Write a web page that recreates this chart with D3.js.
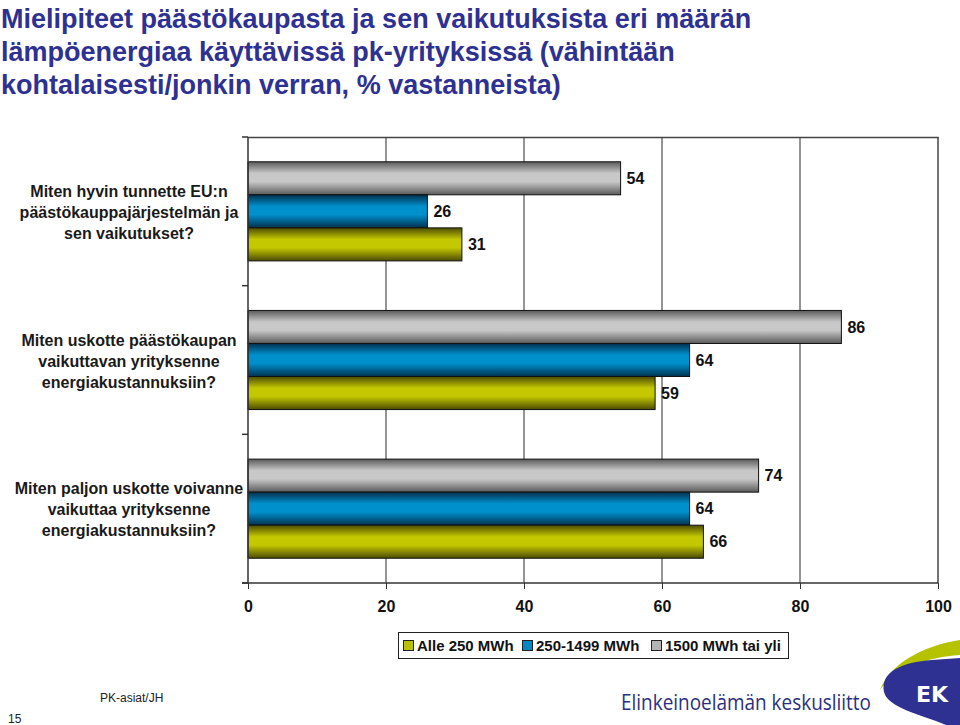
<!DOCTYPE html>
<html><head><meta charset="utf-8">
<script src="https://cdn.jsdelivr.net/npm/d3@7"></script>
<style>
html,body{margin:0;padding:0;background:#fff;}
svg{display:block;font-family:"Liberation Sans",Arial,sans-serif;}
</style></head>
<body>
<script>
const titleLines = ["Mielipiteet päästökaupasta ja sen vaikutuksista eri määrän","lämpöenergiaa käyttävissä pk-yrityksissä (vähintään","kohtalaisesti/jonkin verran, % vastanneista)"];
const categories = ["q1","q2","q3"];
const categoryLabels = [
  ["Miten hyvin tunnette EU:n","päästökauppajärjestelmän ja","sen vaikutukset?"],
  ["Miten uskotte päästökaupan","vaikuttavan yrityksenne","energiakustannuksiin?"],
  ["Miten paljon uskotte voivanne","vaikuttaa yrityksenne","energiakustannuksiin?"]
];
const seriesNames = ["Alle 250 MWh","250-1499 MWh","1500 MWh tai yli"];
const alle250 = [31, 59, 66];
const mid250_1499 = [26, 64, 64];
const over1500 = [54, 86, 74];
const xTicks = [0,20,40,60,80,100];

const seriesValues = [alle250, mid250_1499, over1500];
const seriesColors = [
  {dark:"#4c4c00", light:"#c4c800", sw:"#b8c000"},
  {dark:"#00314f", light:"#0090cc", sw:"#0088c4"},
  {dark:"#5a5a5a", light:"#c8c8c8", sw:"#b4b4b4"}
];

const W=960,H=725;
const svg=d3.select("body").append("svg").attr("width",W).attr("height",H);
const defs=svg.append("defs");
seriesColors.forEach((c,i)=>{
  const g=defs.append("linearGradient").attr("id","g"+i).attr("x1",0).attr("y1",0).attr("x2",0).attr("y2",1);
  g.append("stop").attr("offset","0%").attr("stop-color",c.dark);
  g.append("stop").attr("offset","35%").attr("stop-color",c.light);
  g.append("stop").attr("offset","60%").attr("stop-color",c.light);
  g.append("stop").attr("offset","100%").attr("stop-color",c.dark);
});

// Title
const title=svg.append("g");
titleLines.forEach((t,i)=>{
  title.append("text").attr("x",1).attr("y",28+i*33).attr("font-size",27).attr("font-weight","bold")
   .attr("fill","#2e3192").text(t);
});

const x=d3.scaleLinear().domain([0,100]).range([248,938]);
const y=d3.scaleBand().domain(categories).range([137,583]);
const order=[2,1,0]; // top to bottom: >1500, 250-1499, alle 250
const yi=d3.scaleBand().domain(order).range([0,y.bandwidth()]).paddingOuter(0.75);

const plot=svg.append("g");
// gridlines
plot.selectAll("line.grid").data(xTicks.filter(d=>d>0&&d<100)).enter().append("line")
 .attr("x1",d=>x(d)).attr("x2",d=>x(d)).attr("y1",y.range()[0]).attr("y2",y.range()[1])
 .attr("stroke","#2a2a2a").attr("stroke-width",1);
// top & right border
plot.append("line").attr("x1",x(0)).attr("x2",x(100)+0.5).attr("y1",137.5).attr("y2",137.5).attr("stroke","#444").attr("stroke-width",1.5);
plot.append("line").attr("x1",x(100)).attr("x2",x(100)).attr("y1",137).attr("y2",583).attr("stroke","#444").attr("stroke-width",1.5);

// bars
categories.forEach((cat,ci)=>{
  order.forEach(si=>{
    const v=seriesValues[si][ci];
    const y0=y(cat)+yi(si);
    plot.append("rect").attr("x",x(0)).attr("y",y0).attr("width",x(v)-x(0)).attr("height",yi.bandwidth())
      .attr("fill","url(#g"+si+")").attr("stroke","#111").attr("stroke-width",1);
    plot.append("text").attr("x",x(v)+6).attr("y",y0+yi.bandwidth()/2).attr("dy","0.36em")
      .attr("font-size",16).attr("font-weight","bold").attr("fill","#111").text(v);
  });
});

// y axis
plot.append("line").attr("x1",x(0)).attr("x2",x(0)).attr("y1",137).attr("y2",583).attr("stroke","#333").attr("stroke-width",1.5);
const bounds=categories.map(c=>y(c)).concat([y.range()[1]]);
plot.selectAll("line.ytick").data(bounds).enter().append("line")
 .attr("x1",x(0)-6).attr("x2",x(0)).attr("y1",d=>d).attr("y2",d=>d).attr("stroke","#333").attr("stroke-width",1.5);

// x axis
const xAxis=d3.axisBottom(x).tickValues(xTicks).tickSize(6).tickPadding(12).tickSizeOuter(0);
const xg=plot.append("g").attr("transform","translate(0,583)").call(xAxis);
xg.select(".domain").attr("stroke","#333").attr("stroke-width",1.5).attr("d","M"+(x(0)-6)+",0H"+x(100));
xg.selectAll(".tick line").attr("stroke","#333").attr("stroke-width",1);
xg.selectAll(".tick text").attr("font-size",16).attr("font-weight","bold").attr("fill","#111")
  .attr("font-family","Liberation Sans, Arial, sans-serif");

// category labels
categories.forEach((cat,ci)=>{
  const cy=y(cat)+y.bandwidth()/2+1;
  const lines=categoryLabels[ci];
  lines.forEach((t,li)=>{
    svg.append("text").attr("x",129).attr("y",cy+(li-1)*21).attr("dy","0.36em").attr("text-anchor","middle")
      .attr("font-size",16).attr("font-weight","bold").attr("fill","#1a1a1a").text(t);
  });
});

// legend
const lg=svg.append("g");
lg.append("rect").attr("x",398.5).attr("y",632.5).attr("width",390).attr("height",26).attr("fill","#fff").attr("stroke","#222").attr("stroke-width",1);
const lx=[403,522,651];
seriesNames.forEach((n,i)=>{
  lg.append("rect").attr("x",lx[i]+0.5).attr("y",640.5).attr("width",10).attr("height",10)
    .attr("fill",seriesColors[i].sw).attr("stroke","#222").attr("stroke-width",1);
  lg.append("text").attr("x",lx[i]+14).attr("y",645.5).attr("dy","0.36em").attr("font-size",15)
    .attr("font-weight","bold").attr("fill","#111").text(n);
});

// footer
svg.append("text").attr("x",100).attr("y",702).attr("font-size",12).attr("fill","#222")
  .attr("font-family","Liberation Sans Narrow, Arial Narrow, sans-serif").text("PK-asiat/JH");
svg.append("text").attr("x",8).attr("y",723).attr("font-size",12).attr("fill","#222")
  .attr("font-family","Liberation Sans Narrow, Arial Narrow, sans-serif").text("15");
svg.append("text").attr("x",621).attr("y",710).attr("font-size",22).attr("fill","#2a2f80")
  .attr("font-family","Open Sans, sans-serif").attr("textLength",250).attr("lengthAdjust","spacingAndGlyphs")
  .text("Elinkeinoelämän keskusliitto");
// logo
svg.append("path").attr("fill","#b5c200")
  .attr("d","M880,690 C890,664 922,646 960,640 L960,655 C928,657 896,668 880,690 Z");
svg.append("path").attr("fill","#2e3192")
  .attr("d","M884,692 C880,672 902,662 932,660 L960,658 L960,725 L946,725 C920,714 888,708 884,692 Z");
svg.append("text").attr("x",932).attr("y",702).attr("text-anchor","middle").attr("font-size",22)
  .attr("font-weight","bold").attr("fill","#fff").attr("font-family","DejaVu Sans, sans-serif").text("EK");
</script>
</body></html>
